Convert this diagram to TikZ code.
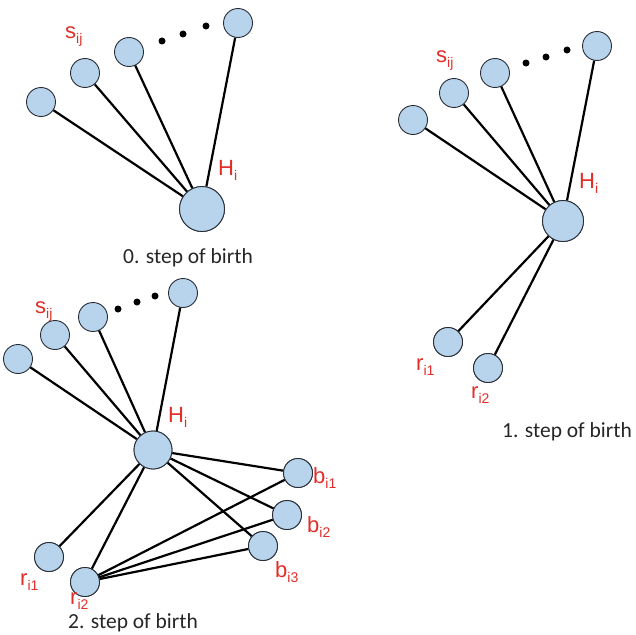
\documentclass[tikz,border=0pt]{standalone}
\usepackage{fontspec}
\setmainfont{Carlito}
\newfontfamily\labelfont{Liberation Sans}
\definecolor{nodefill}{RGB}{183,212,236}
\definecolor{nodeline}{RGB}{40,45,55}
\definecolor{labelred}{RGB}{226,45,40}
\newcommand{\lbl}[2]{{\labelfont\fontsize{22}{24}\selectfont #1\raisebox{-5.5pt}{\fontsize{14}{15}\selectfont #2}}}
\tikzset{
  leaf/.style={circle, draw=nodeline, line width=0.9pt, fill=nodefill, minimum size=29pt, inner sep=0pt},
  hub/.style={circle, draw=nodeline, line width=0.9pt, fill=nodefill, inner sep=0pt},
  link/.style={line width=2.2pt, black},
  dot/.style={circle, fill=black, minimum size=7pt, inner sep=0pt},
  tag/.style={text=labelred, inner sep=0pt, anchor=base west},
  caption/.style={font=\fontsize{21.5}{24}\selectfont, text=black!85, inner sep=0pt, anchor=base}
}
\begin{document}
\begin{tikzpicture}[x=1pt,y=-1pt]
\useasboundingbox (0,0) rectangle (636,634);

% ---- step 0 ----
\node[leaf] (a1) at (41,102) {};
\node[leaf] (a2) at (85,73) {};
\node[leaf] (a3) at (129,52) {};
\node[leaf] (a4) at (238,23) {};
\node[hub, minimum size=45pt] (aH) at (202,209) {};
\foreach \n in {a1,a2,a3,a4} \draw[link] (aH) -- (\n);
\node[hub, minimum size=45pt] at (aH) {};
\node[dot] (ad1) at (162,41) {};
\node[dot] (ad2) at (183,34) {};
\node[dot] (ad3) at (206,26) {};
\node[tag] (as) at (65,38) {\lbl{s}{ij}};
\node[tag] (ah) at (218,175) {\lbl{H}{i}};
\node[caption] (ac) at (188,263) {0. step of birth};

% ---- step 1 ----
\node[leaf] (b1) at (413,120) {};
\node[leaf] (b2) at (454,93) {};
\node[leaf] (b3) at (495,73) {};
\node[leaf] (b4) at (597,46) {};
\node[leaf] (br1) at (448,342) {};
\node[leaf] (br2) at (488,368) {};
\node[hub, minimum size=41pt] (bH) at (563,221) {};
\foreach \n in {b1,b2,b3,b4,br1,br2} \draw[link] (bH) -- (\n);
\node[hub, minimum size=41pt] at (bH) {};
\node[leaf] at (br1) {};
\node[leaf] at (br2) {};
\node[dot] (bd1) at (526,63) {};
\node[dot] (bd2) at (546,57) {};
\node[dot] (bd3) at (567,50) {};
\node[tag] (bs) at (436,62) {\lbl{s}{ij}};
\node[tag] (bh) at (579,188) {\lbl{H}{i}};
\node[tag] (brl1) at (416,370) {\lbl{r}{i1}};
\node[tag] (brl2) at (471,398) {\lbl{r}{i2}};
\node[caption] (bc) at (567,437) {1. step of birth};

% ---- step 2 ----
\node[leaf] (c1) at (18,359) {};
\node[leaf] (c2) at (55,335) {};
\node[leaf] (c3) at (93,317) {};
\node[leaf] (c4) at (183,293) {};
\node[leaf] (cb1) at (298,473) {};
\node[leaf] (cb2) at (287,515) {};
\node[leaf] (cb3) at (263,546) {};
\node[leaf] (cr1) at (49,557) {};
\node[leaf] (cr2) at (85,582) {};
\node[hub, minimum size=38pt] (cH) at (153,450) {};
\foreach \n in {c1,c2,c3,c4,cb1,cb2,cb3,cr1,cr2} \draw[link] (cH) -- (\n);
\foreach \n in {cb1,cb2,cb3} \draw[link] (cr2) -- (\n);
\node[hub, minimum size=38pt] at (cH) {};
\foreach \n in {cb1,cb2,cb3,cr1,cr2} \node[leaf] at (\n) {};
\node[dot] (cd1) at (118,309) {};
\node[dot] (cd2) at (137,302) {};
\node[dot] (cd3) at (155,296) {};
\node[tag] (cs) at (35,313) {\lbl{s}{ij}};
\node[tag] (ch) at (168,422) {\lbl{H}{i}};
\node[tag] (cbl1) at (313,483) {\lbl{b}{i1}};
\node[tag] (cbl2) at (307,532) {\lbl{b}{i2}};
\node[tag] (cbl3) at (275,577) {\lbl{b}{i3}};
\node[tag] (crl1) at (20,585) {\lbl{r}{i1}};
\node[tag] (crl2) at (70,604) {\lbl{r}{i2}};
\node[caption] (cc) at (133,628) {2. step of birth};
\end{tikzpicture}
\end{document}
